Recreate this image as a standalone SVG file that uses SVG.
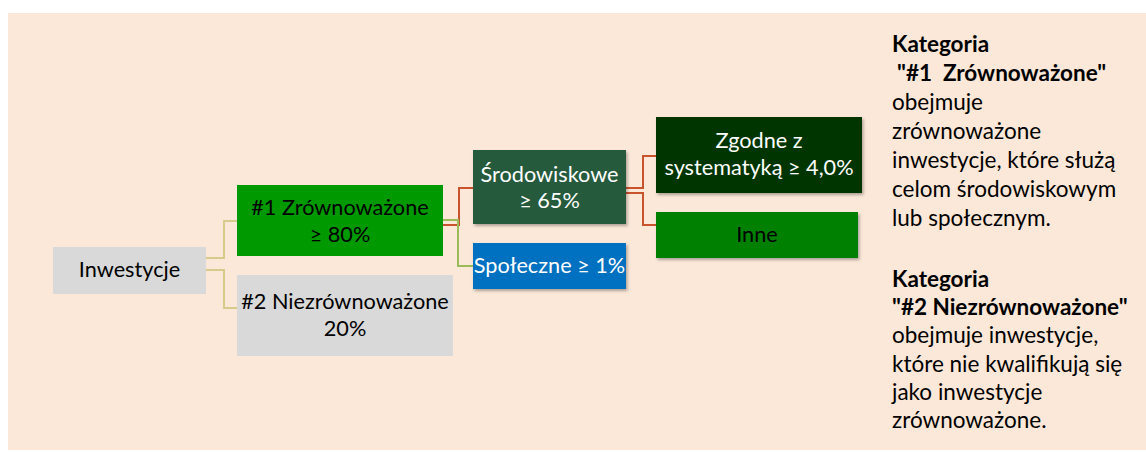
<svg xmlns="http://www.w3.org/2000/svg" width="1146" height="452" viewBox="0 0 1146 452">
<style>
text{font-family:Lato,"Liberation Sans",sans-serif}
.box text{font-size:21.7px;text-anchor:middle}
.dark{fill:#000}
.light{fill:#fff}
.side{font-size:22.5px;fill:#000}
.b{font-weight:bold}
.c1{fill:none;stroke:#d6cb8a;stroke-width:2}
.c2{fill:none;stroke:#c9532d;stroke-width:2}
.c3{fill:none;stroke:#9bbb59;stroke-width:2}
</style>
<defs>
<filter id="sh" x="-5%" y="-5%" width="115%" height="125%">
<feDropShadow dx="1.5" dy="2" stdDeviation="1.5" flood-color="#000" flood-opacity="0.3"/>
</filter>
</defs>
<rect x="8" y="13" width="1138" height="437" fill="#fbe8d8"/>
<g id="connectors">
<path class="c1" d="M206,258 H224 V221 H237"/>
<path class="c1" d="M206,270 H224 V308 H237"/>
<path class="c2" d="M443,225 H459 V188 H473"/>
<path class="c3" d="M443,220 H458 V266 H473"/>
<path class="c2" d="M626,188 H643 V156 H656"/>
<path class="c2" d="M626,193 H643 V225 H656"/>
</g>
<g id="n-inwestycje" class="box">
<rect x="53" y="247" width="153" height="47" fill="#d9d9d9"/>
<text class="dark" x="129.5" y="277">Inwestycje</text>
</g>
<g id="n-zrownowazone" class="box">
<rect x="237" y="185" width="206" height="71" fill="#009900"/>
<text class="dark" x="340" y="215">#1 Zrównoważone</text>
<text class="dark" x="340" y="242">≥ 80%</text>
</g>
<g id="n-niezrownowazone" class="box">
<rect x="237" y="275" width="216" height="81" fill="#d9d9d9"/>
<text class="dark" x="345" y="309">#2 Niezrównoważone</text>
<text class="dark" x="345" y="336">20%</text>
</g>
<g id="n-srodowiskowe" class="box">
<rect x="473" y="150" width="153" height="74" fill="#285a3c" filter="url(#sh)"/>
<text class="light" x="549.5" y="182">Środowiskowe</text>
<text class="light" x="549.5" y="208">≥ 65%</text>
</g>
<g id="n-spoleczne" class="box">
<rect x="473" y="243" width="153" height="46" fill="#0070c0" filter="url(#sh)"/>
<text class="light" x="549.5" y="273">Społeczne ≥ 1%</text>
</g>
<g id="n-zgodne" class="box">
<rect x="656" y="117" width="206" height="76" fill="#043604" filter="url(#sh)"/>
<text class="light" x="759" y="148">Zgodne z</text>
<text class="light" x="759" y="175">systematyką ≥ 4,0%</text>
</g>
<g id="n-inne" class="box">
<rect x="656" y="212" width="202" height="46" fill="#008000" filter="url(#sh)"/>
<text class="dark" x="757" y="242">Inne</text>
</g>
<g id="legend">
<text class="side b" x="892" y="52">Kategoria</text>
<text class="side b" x="897" y="81" xml:space="preserve">"#1  Zrównoważone"</text>
<text class="side" x="892" y="110">obejmuje</text>
<text class="side" x="892" y="139">zrównoważone</text>
<text class="side" x="892" y="168">inwestycje, które służą</text>
<text class="side" x="892" y="197">celom środowiskowym</text>
<text class="side" x="892" y="226">lub społecznym.</text>
<text class="side b" x="892" y="287">Kategoria</text>
<text class="side b" x="892" y="315">"#2 Niezrównoważone"</text>
<text class="side" x="892" y="343">obejmuje inwestycje,</text>
<text class="side" x="892" y="372">które nie kwalifikują się</text>
<text class="side" x="892" y="400">jako inwestycje</text>
<text class="side" x="892" y="428">zrównoważone.</text>
</g>
</svg>
